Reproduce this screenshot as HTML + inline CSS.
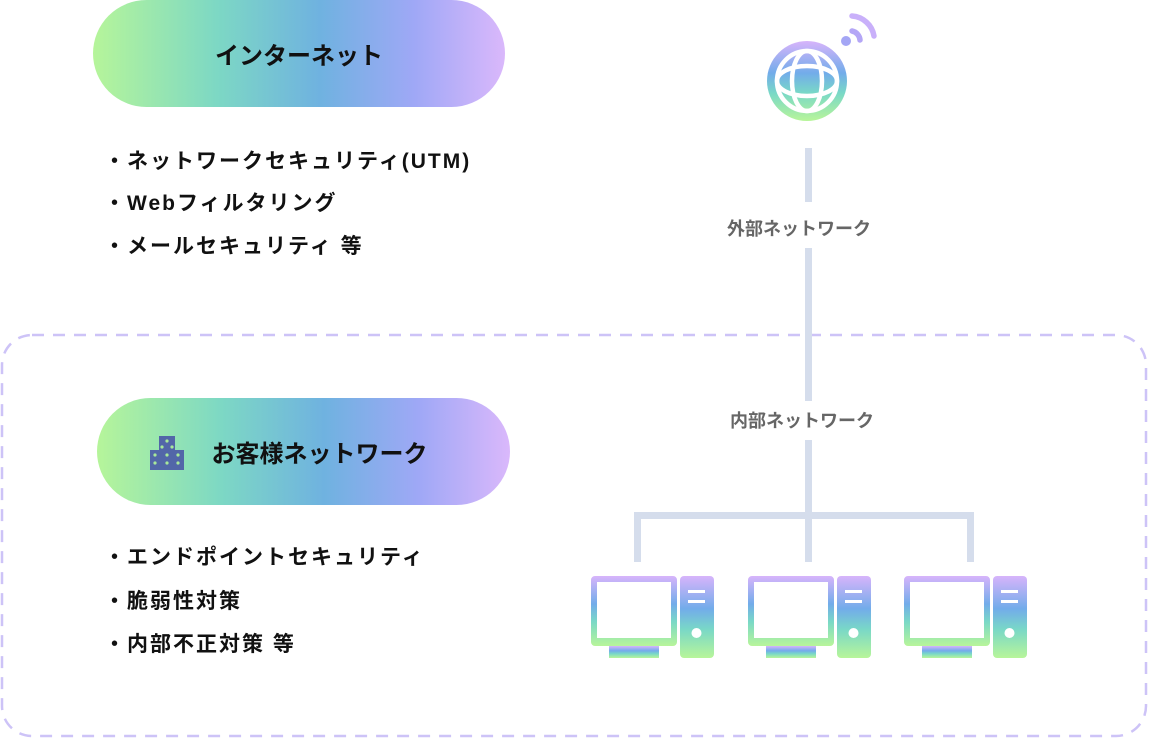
<!DOCTYPE html>
<html><head><meta charset="utf-8"><style>
body{margin:0;width:1149px;height:738px;background:#fff;position:relative;overflow:hidden;font-family:"Liberation Sans","Noto Sans CJK JP",sans-serif}
.pill{position:absolute;height:107px;border-radius:54px;background:linear-gradient(90deg,#b6f59a 0%,#7dd8c4 30%,#6fb2e0 55%,#9fa8f6 78%,#dab8fb 100%);display:flex;align-items:center;justify-content:center;font-weight:bold;font-size:24px;color:#111}
.li{position:absolute;left:104px;font-weight:bold;font-size:21px;letter-spacing:2px;color:#111;line-height:30px;white-space:nowrap}
.lbl{position:absolute;font-size:18px;font-weight:bold;color:#666;background:#fff;white-space:nowrap}
</style></head><body>
<svg width="1149" height="738" style="position:absolute;left:0;top:0">
<defs>
<linearGradient id="v" x1="0" y1="0" x2="0" y2="1"><stop offset="0" stop-color="#d7b4fb"/><stop offset="0.4" stop-color="#72acea"/><stop offset="0.65" stop-color="#79d8c7"/><stop offset="1" stop-color="#b8f59a"/></linearGradient>
<g id="pc">
<path d="M0 4a4 4 0 0 1 4-4h78a4 4 0 0 1 4 4v62a4 4 0 0 1-4 4h-78a4 4 0 0 1-4-4z M6 6v56h74v-56z" fill="url(#v)" fill-rule="evenodd"/>
<rect x="18" y="70" width="50" height="12" fill="url(#v)"/>
<path d="M89 4a4 4 0 0 1 4-4h26a4 4 0 0 1 4 4v74a4 4 0 0 1-4 4h-26a4 4 0 0 1-4-4z" fill="url(#v)"/>
<rect x="97" y="14" width="17" height="3" fill="#fff"/><rect x="97" y="24" width="17" height="3" fill="#fff"/><circle cx="105.5" cy="57" r="5" fill="#fff"/>
</g>
</defs>
<rect x="2" y="335" width="1144" height="401" rx="30" fill="none" stroke="#cdc3f7" stroke-width="2.5" stroke-dasharray="12 9"/>
<g fill="#d5ddec">
<rect x="805" y="148" width="7" height="54"/>
<rect x="805" y="248" width="7" height="153"/>
<rect x="805" y="440" width="7" height="122"/>
<rect x="634" y="512" width="340" height="7"/>
<rect x="634" y="512" width="7" height="50"/>
<rect x="967" y="512" width="7" height="50"/>
</g>
<use href="#pc" x="591" y="576"/>
<use href="#pc" x="748" y="576"/>
<use href="#pc" x="904" y="576"/>
<g>
<circle cx="807" cy="81" r="40" fill="url(#v)"/>
<g fill="none" stroke="#fff" stroke-width="4.5">
<circle cx="807" cy="81" r="30"/>
<ellipse cx="807" cy="81" rx="15" ry="30"/>
<ellipse cx="807" cy="81" rx="30" ry="15"/>
</g>
<circle cx="846" cy="41" r="5" fill="#a4a6f5"/>
<path d="M852 31a10 10 0 0 1 8 9" stroke="#b4a6f6" stroke-width="5.5" fill="none" stroke-linecap="round"/>
<path d="M852 16a24 24 0 0 1 22 20" stroke="#c9b0fa" stroke-width="5.5" fill="none" stroke-linecap="round"/>
</g>
</svg>
<div class="pill" style="left:93px;top:0;width:412px">インターネット</div>
<div class="pill" style="left:97px;top:398px;width:413px"><svg width="34" height="36" viewBox="0 0 34 36" style="margin-right:28px;margin-left:-30px"><rect x="0" y="16" width="34" height="20" fill="#5266a8"/><rect x="9" y="2" width="16" height="34" fill="#5266a8"/><g fill="#a8e89a"><circle cx="17" cy="7" r="1.6"/><circle cx="12" cy="13" r="1.6"/><circle cx="22" cy="13" r="1.6"/><circle cx="5" cy="21" r="1.6"/><circle cx="17" cy="21" r="1.6"/><circle cx="28" cy="21" r="1.6"/><circle cx="5" cy="29" r="1.6"/><circle cx="17" cy="29" r="1.6"/><circle cx="28" cy="29" r="1.6"/></g></svg>お客様ネットワーク</div>
<div class="li" style="top:147px">・ネットワークセキュリティ(UTM)</div>
<div class="li" style="top:189px">・Webフィルタリング</div>
<div class="li" style="top:232px">・メールセキュリティ 等</div>
<div class="li" style="top:543px">・エンドポイントセキュリティ</div>
<div class="li" style="top:587px">・脆弱性対策</div>
<div class="li" style="top:630px">・内部不正対策 等</div>
<div class="lbl" style="left:727px;top:215px">外部ネットワーク</div>
<div class="lbl" style="left:730px;top:407px">内部ネットワーク</div>
</body></html>
